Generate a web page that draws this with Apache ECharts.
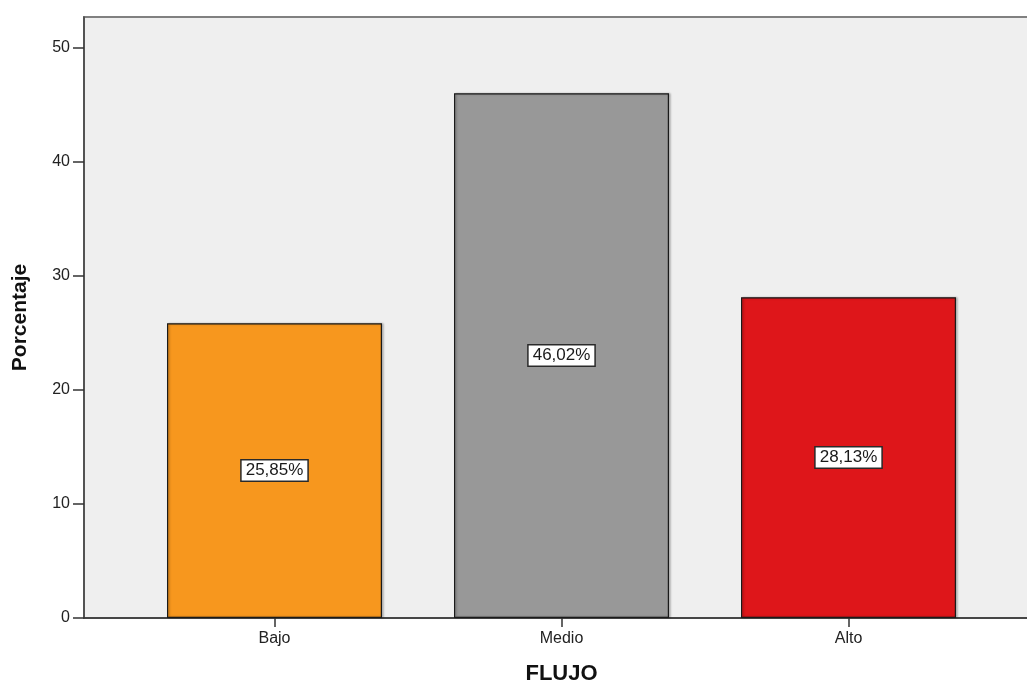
<!DOCTYPE html>
<html>
<head>
<meta charset="utf-8">
<script src="https://cdn.jsdelivr.net/npm/echarts@6/dist/echarts.min.js"></script>
<style>
  html, body { margin: 0; padding: 0; background: #fff; }
  #chart { width: 1027px; height: 681px; }
</style>
</head>
<body>
<div id="chart"></div>
<script>
// Distribución porcentual del nivel de flujo
const categories = ['Bajo', 'Medio', 'Alto'];
const porcentajes = [25.85, 46.02, 28.13];
const barColors = ['#F7971E', '#989898', '#DE161A'];
const yTicks = [0, 10, 20, 30, 40, 50];

const yMax = 52.7;
const font = 'Liberation Sans, Arial, sans-serif';

const chart = echarts.init(document.getElementById('chart'));

chart.setOption({
  animation: false,
  backgroundColor: '#ffffff',
  grid: [
    // plot frame with the grey background and the y axis
    { left: 84, top: 17, right: -10, bottom: 63, show: true,
      outerBoundsMode: 'none', containLabel: false,
      backgroundColor: '#EFEFEF', borderColor: '#808080', borderWidth: 2 },
    // grid holding the bars and category ticks
    { left: 131, top: 17, width: 861, bottom: 63,
      outerBoundsMode: 'none', containLabel: false }
  ],
  xAxis: [
    { type: 'value', gridIndex: 0, min: 0, max: 1, show: true,
      axisLine: { show: true, lineStyle: { color: '#333', width: 1.5 } },
      axisTick: { show: false }, axisLabel: { show: false }, splitLine: { show: false } },
    { type: 'category', gridIndex: 1, data: categories,
      name: 'FLUJO', nameLocation: 'middle', nameGap: 45,
      nameTextStyle: { fontFamily: font, fontWeight: 'bold', fontSize: 22, color: '#111' },
      axisLine: { show: false },
      axisTick: { show: true, alignWithLabel: true, length: 9, lineStyle: { color: '#333', width: 1.5 } },
      axisLabel: { fontFamily: font, fontSize: 16, color: '#222', margin: 13 },
      splitLine: { show: false } }
  ],
  yAxis: [
    { type: 'value', gridIndex: 0, min: 0, max: yMax,
      name: 'Porcentaje', nameLocation: 'middle', nameGap: 53,
      nameTextStyle: { fontFamily: font, fontWeight: 'bold', fontSize: 21, color: '#111' },
      axisLine: { show: true, lineStyle: { color: '#444', width: 1.5 } },
      axisTick: { show: true, length: 11, customValues: yTicks, lineStyle: { color: '#333', width: 1.5 } },
      axisLabel: { fontFamily: font, fontSize: 16, color: '#222', margin: 14, customValues: yTicks },
      splitLine: { show: false } },
    { type: 'value', gridIndex: 1, min: 0, max: yMax, show: false }
  ],
  series: [{
    type: 'bar',
    xAxisIndex: 1,
    yAxisIndex: 1,
    barWidth: 215,
    data: porcentajes.map((v, i) => ({
      value: v,
      itemStyle: { color: barColors[i] }
    })),
    itemStyle: {
      borderColor: '#1a1a1a', borderWidth: 1.2,
      shadowColor: 'rgba(0,0,0,0.25)', shadowBlur: 2, shadowOffsetX: 1.5, shadowOffsetY: 0
    },
    label: {
      show: true,
      position: 'inside',
      formatter: p => p.value.toFixed(2).replace('.', ',') + '%',
      fontFamily: font,
      fontSize: 17,
      color: '#1a1a1a',
      backgroundColor: '#ffffff',
      borderColor: '#2a2a2a',
      borderWidth: 1.5,
      padding: [2, 4, 1, 4]
    }
  }]
});
</script>
</body>
</html>
